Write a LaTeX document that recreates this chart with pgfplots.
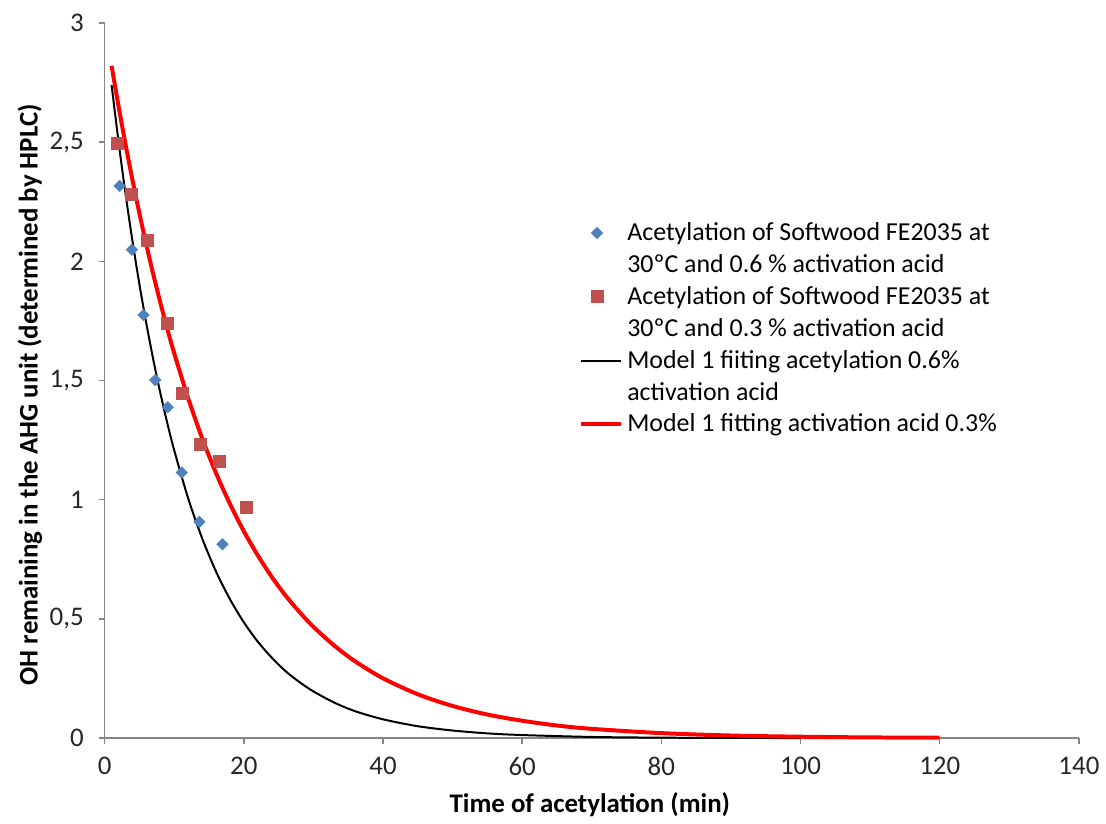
\documentclass[border=0pt]{standalone}
\usepackage{pgfplots}
\pgfplotsset{compat=1.18}
\usepackage{fontspec}
\setmainfont{Carlito}
\definecolor{mblue}{HTML}{4F81BD}
\definecolor{mred}{HTML}{C0504D}
\definecolor{axgray}{HTML}{868686}
\begin{document}
\begin{tikzpicture}
\begin{axis}[
  scale only axis,
  width=489pt, height=359pt,
  xmin=0, xmax=140, ymin=0, ymax=3,
  xtick={0,20,40,60,80,100,120,140},
  ytick={0,0.5,1,1.5,2,2.5,3},
  axis x line=bottom, axis y line=left,
  axis line style={-, axgray, line width=0.7pt},
  tick style={axgray, line width=0.7pt},
  tick align=outside,
  major tick length=3pt,
  /pgf/number format/assume math mode=true,
  /pgf/number format/.cd, use comma, 1000 sep={},
  /pgfplots/.cd,
  ticklabel style={font=\fontsize{13.5}{16}\selectfont, text=black!85},
  xticklabel style={yshift=-3pt},
  yticklabel style={xshift=-4pt},
  xlabel={\textbf{Time of acetylation (min)}},
  ylabel={\textbf{OH remaining in the AHG unit (determined by HPLC)}},
  xlabel style={font=\fontsize{13.5}{16}\selectfont, at={(axis description cs:0.498,-0.093)}, anchor=center},
  ylabel style={font=\fontsize{13.5}{16}\selectfont, at={(axis description cs:-0.0767,0.48)}, anchor=center},
  clip=false,
  legend style={draw=none, fill=none, at={(axis description cs:0.486,0.727)}, anchor=north west,
    font=\fontsize{13}{16.2}\selectfont, cells={align=left}, row sep=1.3pt, inner sep=0pt},
  legend cell align=left,
]
\addplot[only marks, mark=diamond*, mark size=2.8pt, mark options={fill=mblue, draw=mblue, xscale=1.33},
  legend image code/.code={\path plot[only marks, mark=diamond*, mark size=2.8pt, mark options={fill=mblue, draw=mblue, xscale=1.33}] coordinates {(2.6pt,8.1pt)};}]
coordinates {(2.15,2.316) (3.9,2.049) (5.58,1.775) (7.26,1.502) (9.06,1.388) (11.07,1.114) (13.6,0.907) (16.93,0.813)};
\addlegendentry{Acetylation of Softwood FE2035 at\\30ºC and 0.6 \% activation acid}
\addplot[only marks, mark=square*, mark size=3pt, mark options={fill=mred, draw=mred},
  legend image code/.code={\path plot[only marks, mark=square*, mark size=3pt, mark options={fill=mred, draw=mred}] coordinates {(2.6pt,8.1pt)};}]
coordinates {(1.9,2.494) (3.9,2.280) (6.1,2.087) (9.06,1.738) (11.2,1.444) (13.7,1.234) (16.5,1.159) (20.4,0.967)};
\addlegendentry{Acetylation of Softwood FE2035 at\\30ºC and 0.3 \% activation acid}
\addplot[black, line width=1pt, smooth, mark=none, legend image code/.code={\draw[black, line width=1pt] (-0.2cm,8.1pt) -- (0.52cm,8.1pt);}]
coordinates {(1,2.739) (2,2.501) (3,2.283) (4,2.085) (5,1.903) (6,1.738) (7,1.586) (8,1.448) (9,1.322) (10,1.207) (12,1.006) (14,0.839) (16,0.699) (18,0.583) (20,0.486) (22,0.405) (24,0.338) (26,0.281) (28,0.235) (30,0.196) (33,0.149) (36,0.113) (40,0.079) (45,0.050) (50,0.032) (55,0.020) (60,0.013) (70,0.005) (80,0.002) (90,0.001) (100,0.0003)};
\addlegendentry{Model 1 fiiting acetylation 0.6\%\\activation acid}
\addplot[red, line width=2pt, smooth, mark=none, legend image code/.code={\draw[red, line width=2pt] (-0.2cm,0cm) -- (0.52cm,0cm);}]
coordinates {(1,2.820) (2,2.650) (3,2.491) (4,2.341) (5,2.200) (6,2.068) (7,1.944) (8,1.827) (9,1.717) (10,1.614) (12,1.426) (14,1.259) (16,1.112) (18,0.983) (20,0.868) (22,0.767) (24,0.677) (26,0.598) (28,0.529) (30,0.467) (33,0.388) (36,0.322) (40,0.251) (45,0.184) (50,0.135) (55,0.099) (60,0.073) (65,0.053) (70,0.039) (80,0.021) (90,0.011) (100,0.006) (110,0.003) (120,0.002)};
\addlegendentry{Model 1 fitting activation acid 0.3\%}
\path[draw=none] (rel axis cs:-0.1074,-0.117) rectangle (rel axis cs:1.0235,1.032);
\end{axis}
\end{tikzpicture}
\end{document}
